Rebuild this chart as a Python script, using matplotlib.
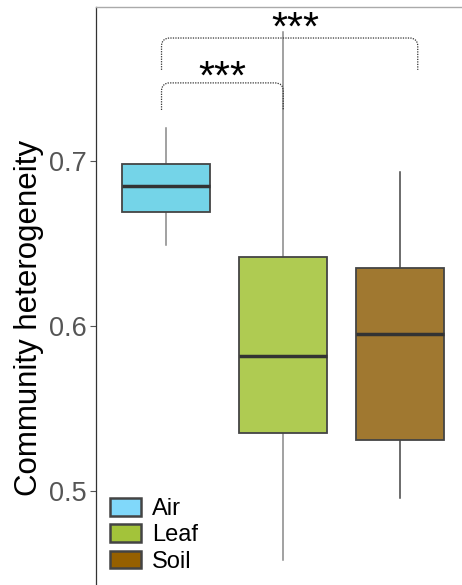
import numpy as np
import matplotlib.pyplot as plt
from matplotlib.patches import Patch, PathPatch
from matplotlib.path import Path

plt.rcParams['font.family'] = ['Liberation Sans', 'DejaVu Sans']

groups = ['Air', 'Leaf', 'Soil']
q1 = [0.669, 0.535, 0.531]
med = [0.685, 0.582, 0.595]
q3 = [0.698, 0.642, 0.635]
wlo = [0.649, 0.458, 0.496]
whi = [0.720, 0.778, 0.693]

box_colors = ['#74D4E8', '#AFCB52', '#A07830']
legend_colors = ['#80D8FA', '#A3C33A', '#966000']
whisker_colors = ['#888888', '#888888', '#444444']

# pairwise comparisons: (x start, x end, top, leg bottom, label)
brackets = [(0.96, 2.0, 0.7473, 0.7309, '***'),
            (0.96, 3.15, 0.7745, 0.7552, '***')]
# star label positions (x, baseline y)
star_pos = [(1.48, 0.7436), (2.1, 0.7733)]


def bracket(ax, x0, x1, top, bottom, label, pos):
    rx, ry = 0.07, 0.005
    verts = [(x0, bottom), (x0, top - ry), (x0, top), (x0 + rx, top),
             (x1 - rx, top), (x1, top), (x1, top - ry), (x1, bottom)]
    codes = [Path.MOVETO, Path.LINETO, Path.CURVE3, Path.CURVE3,
             Path.LINETO, Path.CURVE3, Path.CURVE3, Path.LINETO]
    ax.add_patch(PathPatch(Path(verts, codes), fill=False, lw=0.9,
                           ls=(0, (1, 1)), ec='#333333'))
    ax.text(pos[0], pos[1], label, ha='center', va='baseline',
            fontsize=29.5, color='black')


fig = plt.figure(figsize=(4.62, 5.85), dpi=100)
ax = fig.add_axes([96 / 462, 0.0, 1.0, 1 - 7 / 585])

stats = [dict(med=med[i], q1=q1[i], q3=q3[i], whislo=wlo[i], whishi=whi[i],
              fliers=[]) for i in range(3)]
bp = ax.bxp(stats, positions=[1, 2, 3], widths=0.75, patch_artist=True,
            showcaps=False, medianprops=dict(color='#333333', lw=2.5))
for i, b in enumerate(bp['boxes']):
    b.set_facecolor(box_colors[i])
    b.set_edgecolor('#444444')
    b.set_linewidth(1.3)
for i, w in enumerate(bp['whiskers']):
    w.set_color(whisker_colors[i // 2])
    w.set_linewidth(1.1)
    w.set_zorder(0.5)

for br, pos in zip(brackets, star_pos):
    bracket(ax, *br, pos)

ax.set_xlim(0.4, 0.4 + 462 / 117)
ax.set_ylim(0.443, 0.7933)
ax.set_yticks([0.5, 0.6, 0.7])
ax.set_yticklabels(['0.5', '0.6', '0.7'])
ax.set_xticks([])
ax.tick_params(axis='y', labelsize=19.5, labelcolor='#555555', color='#555555',
               length=4, width=0.8, pad=3)
ax.set_ylabel('Community heterogeneity', fontsize=22.5, color='black')
ax.yaxis.set_label_coords(-52 / 462, 0.462)
for s in ['right', 'bottom']:
    ax.spines[s].set_visible(False)
ax.spines['left'].set_color('#333333')
ax.spines['left'].set_linewidth(0.9)
ax.spines['top'].set_color('#aaaaaa')
ax.spines['top'].set_linewidth(1.0)

handles = [Patch(facecolor=c, edgecolor='#444444', lw=1.8) for c in legend_colors]
ax.legend(handles, groups, loc='lower left', bbox_to_anchor=(0.009, 0.005),
          frameon=False, fontsize=17, handlelength=1.35, handleheight=0.78,
          labelspacing=0.18, handletextpad=0.45, borderaxespad=0.0)

fig.savefig('out.png', dpi=100)
